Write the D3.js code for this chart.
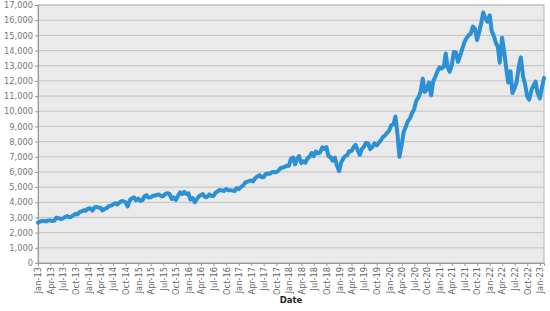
<!DOCTYPE html>
<html lang="en">
<head>
  <meta charset="UTF-8" />
  <title>Index chart</title>
  <style>
    html, body {
      margin: 0;
      padding: 0;
      background: #fff;
      font-family: "DejaVu Sans", Verdana, sans-serif;
    }
    #viz { display: block; }
  </style>
</head>
<body>
  <svg id="viz"></svg>

  <script src="https://d3js.org/d3.v7.min.js"></script>
  <script>
    // two readings per month (1st and 15th)
    const y2013 = [2660, 2720, 2770, 2770, 2740, 2800, 2800, 2760, 2800, 2990, 2950, 2900,
                   2930, 3030, 3090, 3020, 3050, 3140, 3240, 3200, 3370, 3400, 3480, 3440];
    const y2014 = [3590, 3600, 3450, 3650, 3710, 3650, 3640, 3460, 3570, 3610, 3750, 3780,
                   3860, 3940, 3850, 3980, 4080, 4060, 4000, 3720, 4160, 4260, 4320, 4130];
    const y2015 = [4240, 4090, 4150, 4400, 4470, 4320, 4330, 4420, 4450, 4480, 4510, 4420,
                   4400, 4540, 4600, 4570, 4230, 4320, 4150, 4400, 4650, 4540, 4690, 4550];
    const y2016 = [4590, 4180, 4280, 4000, 4200, 4380, 4480, 4540, 4340, 4350, 4520, 4410,
                   4420, 4620, 4730, 4810, 4780, 4750, 4880, 4800, 4800, 4770, 4740, 4930];
    const y2017 = [4860, 5000, 5090, 5280, 5350, 5390, 5440, 5380, 5590, 5690, 5790, 5660,
                   5650, 5860, 5900, 5880, 5990, 6000, 5980, 6080, 6250, 6280, 6340, 6400];
    const y2018 = [6400, 6850, 6950, 6500, 6850, 7050, 6580, 6700, 6610, 6890, 7010, 7250,
                   7040, 7350, 7230, 7280, 7620, 7520, 7630, 7050, 6970, 6740, 6950, 6450];
    const y2019 = [6050, 6600, 6900, 7050, 7100, 7370, 7380, 7620, 7780, 7460, 7130, 7500,
                   7670, 7920, 7860, 7500, 7660, 7880, 7750, 7900, 8080, 8300, 8400, 8560];
    const y2020 = [8730, 9080, 9150, 9650, 8460, 7000, 7810, 8640, 9000, 9330, 9550, 9880,
                   10160, 10680, 10910, 11250, 12150, 11270, 11420, 11900, 11050, 11940, 12270, 12600];
    const y2021 = [12890, 12800, 12930, 13800, 12900, 12600, 13090, 13900, 13860, 13250, 13690, 14100,
                   14550, 14800, 15000, 15100, 15580, 15450, 14690, 15150, 15850, 16500, 16100, 15900];
    const y2022 = [16320, 15300, 14930, 14500, 14240, 13200, 14840, 14000, 12850, 11900, 12640, 11200,
                   11500, 11900, 12950, 13550, 12270, 11800, 10970, 10750, 11400, 11700, 11950, 11200];
    const y2023 = [10850, 11500, 12200];
    const years = [2013, 2014, 2015, 2016, 2017, 2018, 2019, 2020, 2021, 2022, 2023];
    const yearValues = [y2013, y2014, y2015, y2016, y2017, y2018, y2019, y2020, y2021, y2022, y2023];

    const tickLabels = [
      "Jan-13", "Apr-13", "Jul-13", "Oct-13", "Jan-14", "Apr-14", "Jul-14", "Oct-14",
      "Jan-15", "Apr-15", "Jul-15", "Oct-15", "Jan-16", "Apr-16", "Jul-16", "Oct-16",
      "Jan-17", "Apr-17", "Jul-17", "Oct-17", "Jan-18", "Apr-18", "Jul-18", "Oct-18",
      "Jan-19", "Apr-19", "Jul-19", "Oct-19", "Jan-20", "Apr-20", "Jul-20", "Oct-20",
      "Jan-21", "Apr-21", "Jul-21", "Oct-21", "Jan-22", "Apr-22", "Jul-22", "Oct-22",
      "Jan-23"
    ];
    const yTicks = [0, 1000, 2000, 3000, 4000, 5000, 6000, 7000, 8000, 9000, 10000,
                    11000, 12000, 13000, 14000, 15000, 16000, 17000];

    // turn the yearly lists into dated points
    const data = [];
    yearValues.forEach((vals, yi) => {
      vals.forEach((v, i) => {
        const last = years[yi] === 2023 && i === 2;
        const day = last ? 31 : (i % 2 === 0 ? 1 : 15);
        const month = last ? 0 : Math.floor(i / 2);
        data.push({ date: new Date(years[yi], month, day), value: v });
      });
    });

    const width = 550, height = 311;
    const margin = { top: 5, right: 6, bottom: 48, left: 38 };
    const svg = d3.select("#viz").attr("width", width).attr("height", height);

    const x = d3.scaleTime()
      .domain([new Date(2013, 0, 1), new Date(2023, 0, 31)])
      .range([margin.left, width - margin.right]);
    const y = d3.scaleLinear()
      .domain([0, 17000])
      .range([height - margin.bottom, margin.top]);

    // plot background
    svg.append("rect")
      .attr("x", margin.left)
      .attr("y", margin.top)
      .attr("width", width - margin.left - margin.right)
      .attr("height", height - margin.top - margin.bottom)
      .attr("fill", "#eaeaea")
      .attr("stroke", "#b4b4b4");

    // gridlines
    svg.append("g")
      .selectAll("line")
      .data(yTicks)
      .join("line")
      .attr("x1", margin.left)
      .attr("x2", width - margin.right)
      .attr("y1", d => y(d))
      .attr("y2", d => y(d))
      .attr("stroke", "#c2c2c2")
      .attr("stroke-width", 1);

    // y axis
    const yAxis = svg.append("g")
      .attr("transform", `translate(${margin.left},0)`)
      .call(d3.axisLeft(y).tickValues(yTicks).tickFormat(d3.format(",")).tickSize(3).tickPadding(2));
    yAxis.select(".domain").attr("stroke", "#999");
    yAxis.selectAll(".tick line").attr("stroke", "#999");
    yAxis.selectAll("text")
      .attr("fill", "#777")
      .style("font-size", "8.3px")
      .style("font-family", "'DejaVu Sans', Verdana, sans-serif");

    // x axis, quarterly
    const quarterDates = tickLabels.map((t, i) => new Date(2013 + Math.floor(i / 4), (i % 4) * 3, 1));
    const xAxis = svg.append("g")
      .attr("transform", `translate(0,${height - margin.bottom})`)
      .call(d3.axisBottom(x).tickValues(quarterDates).tickFormat((d, i) => tickLabels[i]).tickSize(3));
    xAxis.select(".domain").attr("stroke", "#999");
    xAxis.selectAll(".tick line").attr("stroke", "#999");
    xAxis.selectAll("text")
      .attr("fill", "#666")
      .attr("transform", "rotate(-90)")
      .attr("text-anchor", "end")
      .attr("x", -4)
      .attr("y", 0)
      .attr("dy", "0.35em")
      .style("font-size", "8.3px")
      .style("font-family", "'DejaVu Sans', Verdana, sans-serif");

    svg.append("text")
      .attr("x", (margin.left + width - margin.right) / 2)
      .attr("y", 303)
      .attr("text-anchor", "middle")
      .style("font-size", "8.5px")
      .style("font-weight", "bold")
      .attr("fill", "#222")
      .text("Date");

    // the series
    const line = d3.line()
      .x(d => x(d.date))
      .y(d => y(d.value));

    svg.append("path")
      .datum(data)
      .attr("fill", "none")
      .attr("stroke", "#2b90d4")
      .attr("stroke-width", 4)
      .attr("stroke-linejoin", "round")
      .attr("stroke-linecap", "round")
      .attr("d", line);
  </script>
</body>
</html>
